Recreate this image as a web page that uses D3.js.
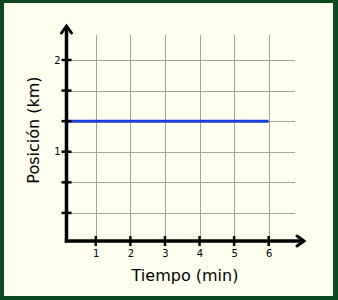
<!DOCTYPE html>
<html><head><meta charset="utf-8">
<script src="https://cdn.jsdelivr.net/npm/d3@7/dist/d3.min.js"></script>
<style>html,body{margin:0;padding:0;background:#fffff0;}svg{display:block;}</style>
</head><body>
<script>
const xTicks = [1, 2, 3, 4, 5, 6];
const xTickLabels = ["1", "2", "3", "4", "5", "6"];
const yTickValues = [1/3, 2/3, 1, 4/3, 5/3, 2];
const yTickLabels = ["", "", "1", "", "", "2"];
const lineX = [0.17, 6];
const lineY = [1.333, 1.333];
const xLabel = "Tiempo (min)";
const yLabel = "Posición (km)";

const W = 338, H = 300;
const svg = d3.select("body").append("svg").attr("width", W).attr("height", H);
svg.append("rect").attr("width", W).attr("height", H).attr("fill", "#0b4a1e");
svg.append("rect").attr("x", 4).attr("y", 3).attr("width", 329).attr("height", 293).attr("fill", "#fffff0");

const x = d3.scaleLinear().domain([0, 6]).range([61.2, 268.7]);
const y = d3.scaleLinear().domain([0, 2]).range([243.5, 60]);
const axX = 66.5, axY = 241;

// grid
const g = svg.append("g").attr("stroke", "#a3a396").attr("stroke-width", 1).attr("shape-rendering", "crispEdges");
xTicks.forEach(v => g.append("line").attr("x1", Math.round(x(v)) + 0.5).attr("x2", Math.round(x(v)) + 0.5).attr("y1", 35).attr("y2", axY));
yTickValues.forEach(v => g.append("line").attr("x1", axX).attr("x2", 295).attr("y1", Math.round(y(v)) + 0.5).attr("y2", Math.round(y(v)) + 0.5));

// data line
const line = d3.line().x(d => x(d[0])).y(d => y(d[1]));
svg.append("path").datum(lineX.map((v, i) => [v, lineY[i]]))
  .attr("d", line).attr("stroke", "#1a3fd6").attr("stroke-width", 3).attr("fill", "none");

// axes lines
svg.append("line").attr("x1", axX).attr("x2", axX).attr("y1", axY + 1.5).attr("y2", 28).attr("stroke", "#000").attr("stroke-width", 3.5);
svg.append("line").attr("x1", axX - 1.7).attr("x2", 301).attr("y1", axY).attr("y2", axY).attr("stroke", "#000").attr("stroke-width", 3.5);
// arrowheads
svg.append("path").attr("d", `M${axX - 5},${33} L${axX},${26} L${axX + 5},${33}`).attr("stroke", "#000").attr("stroke-width", 3).attr("fill", "none").attr("stroke-linecap", "round");
svg.append("path").attr("d", `M297,${axY - 5} L304,${axY} L297,${axY + 5}`).attr("stroke", "#000").attr("stroke-width", 3).attr("fill", "none").attr("stroke-linecap", "round");

// ticks
const xAxis = d3.axisBottom(x).tickValues(xTicks).tickFormat((d, i) => xTickLabels[i]).tickSize(0).tickPadding(9);
const gx = svg.append("g").attr("transform", `translate(0,${axY})`).call(xAxis);
gx.select(".domain").remove();
gx.selectAll("text").attr("font-family", "DejaVu Sans").attr("font-size", 10).attr("fill", "#000");
xTicks.forEach(v => svg.append("line").attr("x1", x(v)).attr("x2", x(v)).attr("y1", axY - 5).attr("y2", axY + 5).attr("stroke", "#000").attr("stroke-width", 2.5));

const yAxis = d3.axisLeft(y).tickValues(yTickValues).tickFormat((d, i) => yTickLabels[i]).tickSize(0).tickPadding(6);
const gy = svg.append("g").attr("transform", `translate(${axX},0)`).call(yAxis);
gy.select(".domain").remove();
gy.selectAll("text").attr("font-family", "DejaVu Sans").attr("font-size", 10).attr("fill", "#000");
yTickValues.forEach(v => svg.append("line").attr("x1", axX - 5).attr("x2", axX + 5).attr("y1", y(v)).attr("y2", y(v)).attr("stroke", "#000").attr("stroke-width", 2.5));

// labels
svg.append("text").attr("x", 185).attr("y", 281).attr("text-anchor", "middle")
  .attr("font-family", "DejaVu Sans").attr("font-size", 16).attr("fill", "#000").text(xLabel);
svg.append("text").attr("transform", "translate(39,130) rotate(-90)").attr("text-anchor", "middle")
  .attr("font-family", "DejaVu Sans").attr("font-size", 16).attr("fill", "#000").text(yLabel);
</script>
</body></html>
